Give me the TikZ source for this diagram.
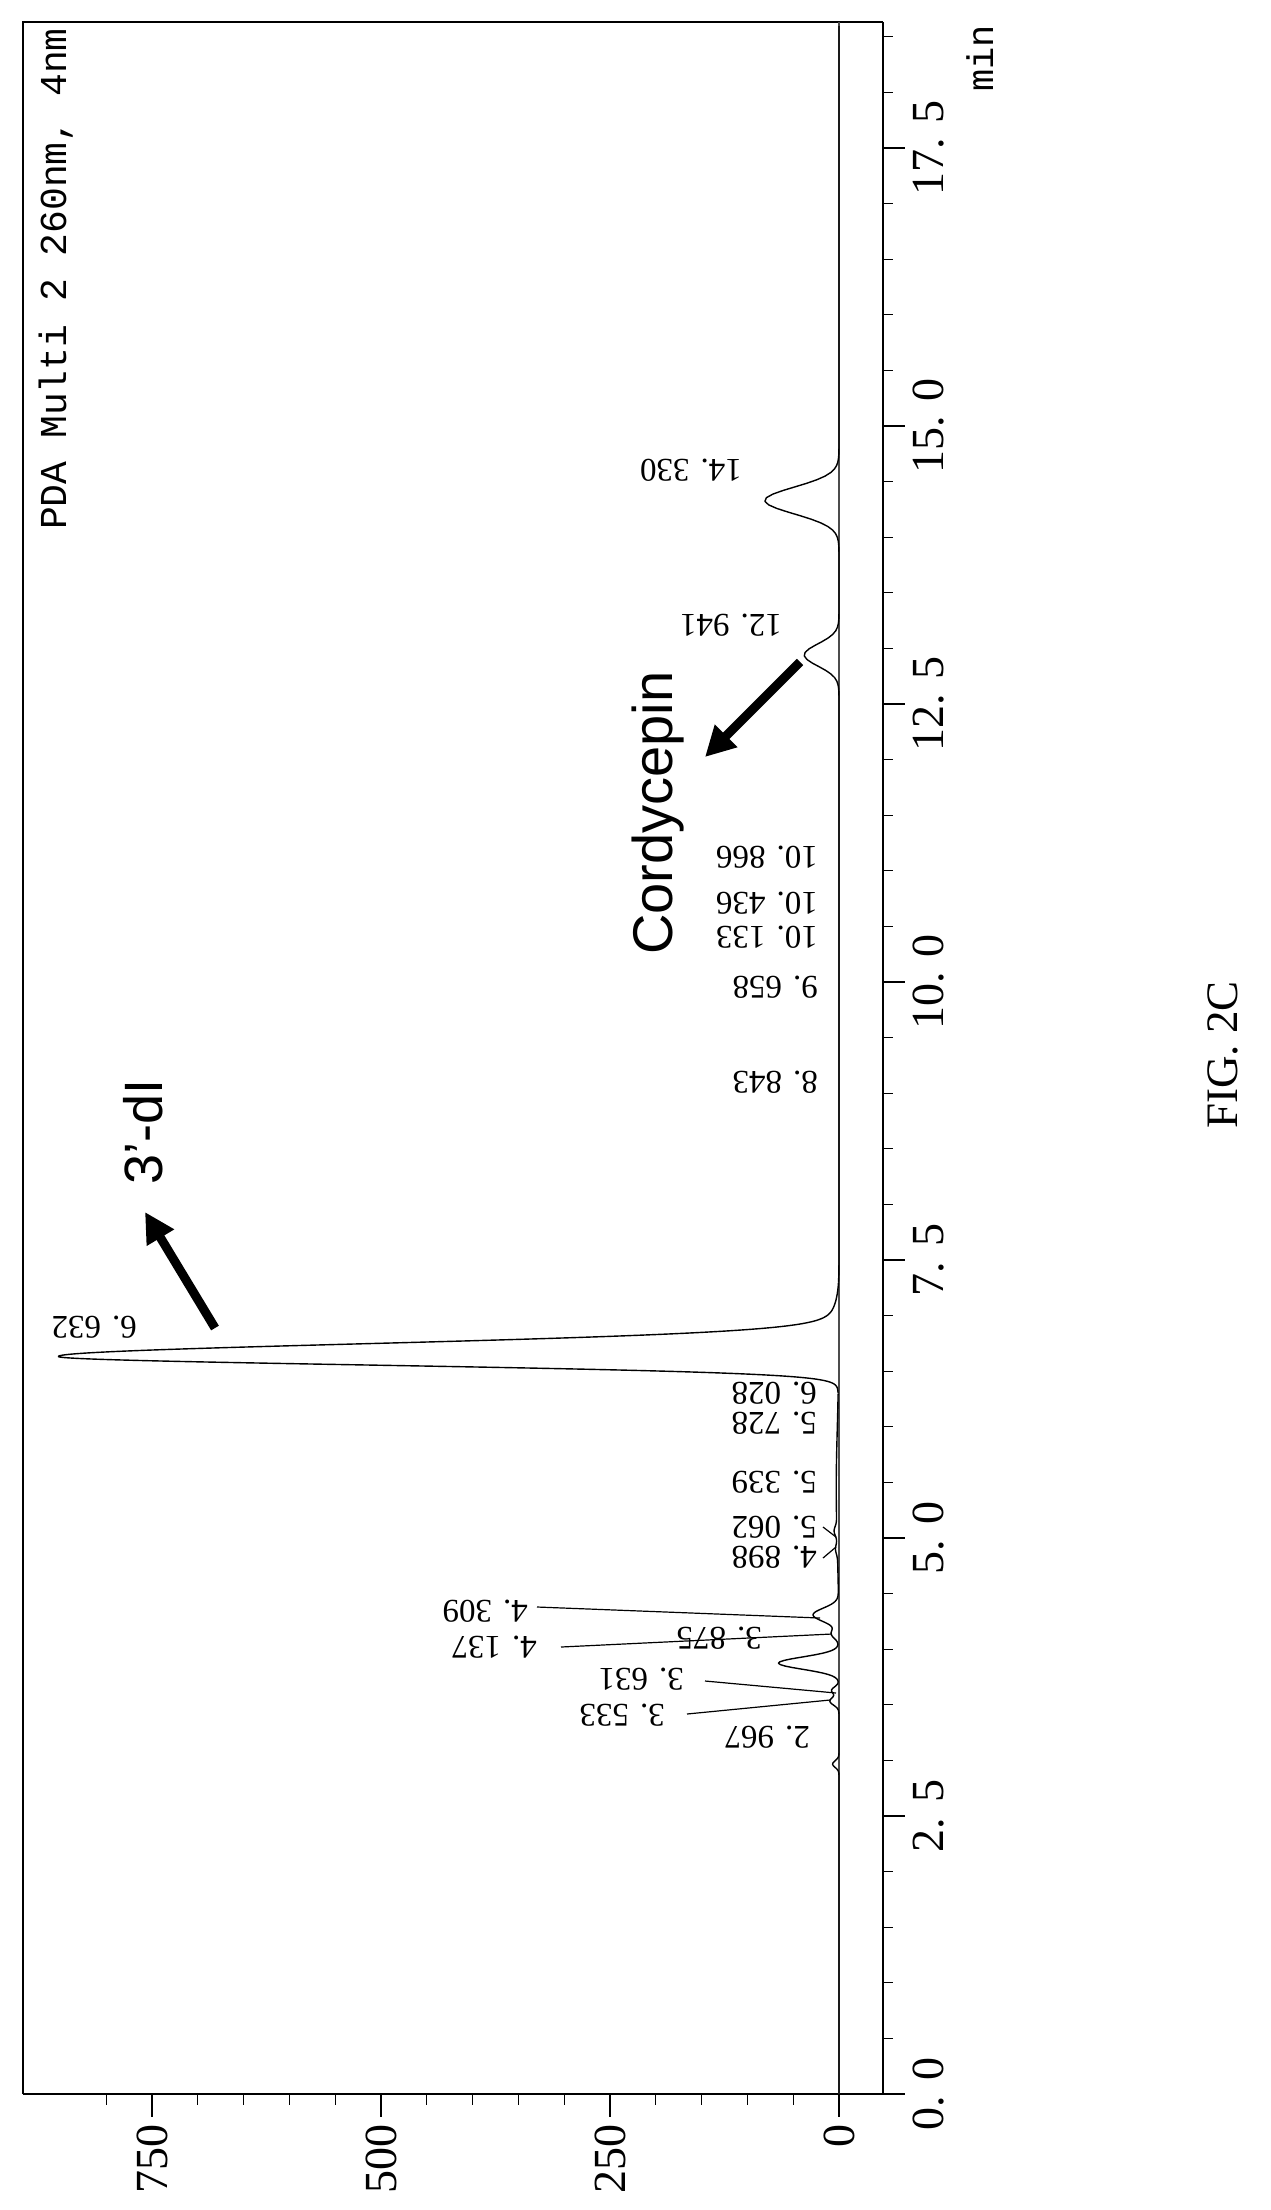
\documentclass[tikz,border=0pt]{standalone}
\usepackage{fontspec}
\setmainfont{Liberation Serif}
\newfontfamily\arialf{Liberation Sans}
\newfontfamily\monof{Liberation Mono}
\usetikzlibrary{arrows.meta}
\tikzset{
  declare function={g(\t,\c,\s)=exp(-0.5*(min(abs(\t-\c)/\s,6))^2);
    bi(\t)=exp(-0.5*(min(abs(\t-6.632)/ifthenelse(\t<6.632,0.076,0.114),6))^2);
    sig(\t)=846*bi(\t)+12*g(\t,6.85,0.18)+81*g(\t,14.33,0.12)+38*g(\t,12.941,0.1)+28*g(\t,4.309,0.06)+8*g(\t,4.137,0.04)+66*g(\t,3.875,0.055)+8*g(\t,3.631,0.03)+10*g(\t,3.533,0.035)+7*g(\t,2.967,0.03)+3*g(\t,5.062,0.04)+2*g(\t,4.898,0.04)+3*g(\t,5.45,0.55);},
  pklab/.style={font=\fontsize{33}{33}\selectfont, rotate=180, anchor=west, inner sep=0pt},
  axlab/.style={font=\fontsize{46}{46}\selectfont, rotate=90, inner sep=0pt},
  leader/.style={line width=1.2pt},
  bigarrow/.style={line width=9pt, -{Triangle[length=30pt,width=30pt]}},
  trace/.style={line width=1.4pt, line join=round}
}
\begin{document}
\begin{tikzpicture}[x=1pt,y=-1pt]
\useasboundingbox (0,0) rectangle (1270,2210);
% frame
\draw[line width=1.2pt] (23,2094) -- (23,22) -- (883,22);
\draw[line width=2.2pt] (883,22) -- (883,2094) -- (23,2094);
% zero line
\draw[line width=1.2pt, black!70] (839,22) -- (839,2094);
% time ticks
\foreach \k in {0,...,37}{
  \pgfmathsetmacro{\yy}{2094-111.2*0.5*\k}
  \pgfmathtruncatemacro{\mj}{mod(\k,5)==0 ? 1 : 0}
  \ifnum\mj=1 \draw[line width=1.2pt] (883,\yy) -- (905,\yy); \else \draw[line width=1.2pt] (883,\yy) -- (893,\yy); \fi
}
\foreach \v/\lab [count=\i] in {0/0. 0,2.5/2. 5,5/5. 0,7.5/7. 5,10/10. 0,12.5/12. 5,15/15. 0,17.5/17. 5}
  \node[axlab] (tl\i) at (929,{2094-111.2*\v}) {\lab};
% intensity ticks
\foreach \k in {0,...,16}{
  \pgfmathsetmacro{\xx}{839-0.916*50*\k}
  \pgfmathtruncatemacro{\mj}{mod(\k,5)==0 ? 1 : 0}
  \ifnum\mj=1 \draw[line width=1.2pt] (\xx,2094) -- (\xx,2117); \else \draw[line width=1.2pt] (\xx,2094) -- (\xx,2105); \fi
}
\foreach \v [count=\i] in {0,250,500,750}
  \node[axlab, anchor=east] (il\i) at ({839-0.916*\v},2124) {\v};
% trace
\draw[trace] plot[variable=\t, domain=0:6.3, samples=500] ({839-0.916*sig(\t)},{2094-111.2*\t});
\draw[trace] plot[variable=\t, domain=6.3:7.3, samples=400] ({839-0.916*sig(\t)},{2094-111.2*\t});
\draw[trace] plot[variable=\t, domain=7.3:18.6, samples=350] ({839-0.916*sig(\t)},{2094-111.2*\t});
% peak labels
\node[pklab] (p14330) at (742,470) {14. 330};
\node[pklab] (p12941) at (782,625) {12. 941};
\node[pklab] (p10866) at (818,857) {10. 866};
\node[pklab] (p10436) at (818,903) {10. 436};
\node[pklab] (p10133) at (818,937) {10. 133};
\node[pklab] (p9658) at (818,987) {9. 658};
\node[pklab] (p8843) at (818,1082) {8. 843};
\node[pklab] (p6632) at (137,1327) {6. 632};
\node[pklab] (p6028) at (817,1393) {6. 028};
\node[pklab] (p5728) at (817,1423) {5. 728};
\node[pklab] (p5339) at (817,1482) {5. 339};
\node[pklab] (p5062) at (817,1527) {5. 062};
\node[pklab] (p4898) at (817,1557) {4. 898};
\node[pklab] (p4309) at (528,1611) {4. 309};
\node[pklab] (p4137) at (537,1647) {4. 137};
\node[pklab] (p3875) at (762,1638) {3. 875};
\node[pklab] (p3631) at (684,1679) {3. 631};
\node[pklab] (p3533) at (665,1715) {3. 533};
\node[pklab] (p2967) at (810,1737) {2. 967};
% leaders
\coordinate (a4309) at (537,1607); \coordinate (b4309) at (820,1618);
\coordinate (a4137) at (561,1647); \coordinate (b4137) at (832,1634);
\coordinate (a3631) at (705,1681); \coordinate (b3631) at (836,1693);
\coordinate (a3533) at (687,1714); \coordinate (b3533) at (830,1700);
\coordinate (a4898) at (823,1558); \coordinate (b4898) at (836,1547);
\coordinate (a5062) at (823,1527); \coordinate (b5062) at (836,1537);
\foreach \n in {4309,4137,3631,3533,4898,5062} \draw[leader] (a\n) -- (b\n);
% annotations
\node[font=\arialf\fontsize{54}{54}\selectfont, rotate=90, anchor=base west, inner sep=0pt] (dI) at (162,1185) {3’-dI};
\node[font=\arialf\fontsize{56}{56}\selectfont, rotate=90, anchor=base west, inner sep=0pt] (cord) at (672,955) {Cordycepin};
\coordinate (s1) at (215,1328); \coordinate (e1) at (145,1212);
\coordinate (s2) at (800,662); \coordinate (e2) at (705,757);
\draw[bigarrow] (s1) -- (e1);
\draw[bigarrow] (s2) -- (e2);
\node[font=\monof\fontsize{38}{38}\selectfont, rotate=90, anchor=base west, inner sep=0pt] (pda) at (66,530) {PDA Multi 2 260nm, 4nm};
\node[font=\monof\fontsize{37}{37}\selectfont, rotate=90, anchor=base west, inner sep=0pt] (min) at (993,92) {min};
\node[font=\fontsize{45}{45}\selectfont, rotate=90, inner sep=0pt] (fig) at (1223,1055) {FIG. 2C};
\end{tikzpicture}
\end{document}
